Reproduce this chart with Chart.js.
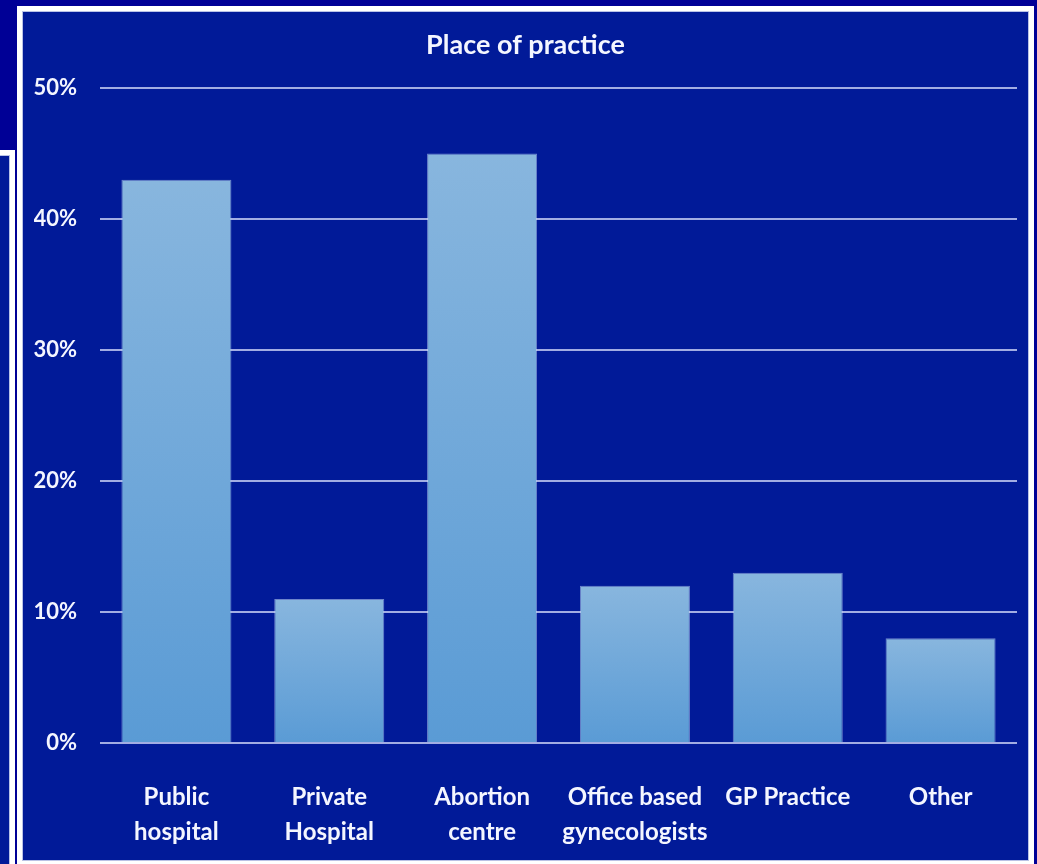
<!DOCTYPE html>
<html>
<head>
<meta charset="utf-8">
<title>Place of practice</title>
<script src="https://cdn.jsdelivr.net/npm/chart.js@4/dist/chart.umd.min.js"></script>
<style>
  html, body { margin: 0; padding: 0; }
  body { width: 1037px; height: 864px; background: #000096; position: relative; overflow: hidden; }
  /* slide frames behind the chart */
  .frame { position: absolute; border: 5px solid #ffffff; background: #011a98; box-sizing: border-box; }
  .frame .inner { position: absolute; inset: 0; border: 1px solid #b9c2e6; }
  #back-frame { left: -20px; top: 150px; width: 35px; height: 760px; }
  #main-frame { left: 17px; top: 6px; width: 1017px; height: 860px; }
  #chart-wrap { position: absolute; left: 17px; top: 0; width: 1017px; height: 864px; }
</style>
</head>
<body>
<div class="frame" id="back-frame"><div class="inner"></div></div>
<div class="frame" id="main-frame"><div class="inner"></div></div>
<div id="chart-wrap"><canvas id="practice-chart" width="1017" height="864"></canvas></div>

<script>
// --- DATA ---
const categories = [
    ['Public', 'hospital'],
    ['Private', 'Hospital'],
    ['Abortion', 'centre'],
    ['Office based', 'gynecologists'],
    'GP Practice',
    'Other'
];
const shares = [43, 11, 45, 12, 13, 8];
const yTicks = [0, 10, 20, 30, 40, 50];

const FONT = "Lato, 'Open Sans', sans-serif";
const textColor = '#f4f6ff';
const gridColor = 'rgba(190, 200, 240, 0.85)';

// Each bar fades from a pale blue at its top to a deeper blue at the base
function barGradient(context) {
    const chart = context.chart;
    if (!chart.chartArea || context.type !== 'data') return '#6fa8da';
    const y = chart.scales.y;
    const top = y.getPixelForValue(context.parsed.y);
    const bottom = y.getPixelForValue(0);
    const g = chart.ctx.createLinearGradient(0, top, 0, bottom);
    g.addColorStop(0, '#88b6de');
    g.addColorStop(1, '#5a9bd5');
    return g;
}

const ctx = document.getElementById('practice-chart');
new Chart(ctx, {
    type: 'bar',
    data: {
        labels: categories,
        datasets: [{
            label: 'Place of practice',
            data: shares,
            backgroundColor: barGradient,
            borderColor: 'rgba(200, 222, 246, 0.55)',
            borderWidth: 1,
            borderSkipped: 'bottom',
            categoryPercentage: 0.72,
            barPercentage: 1
        }]
    },
    options: {
        responsive: false,
        animation: false,
        // equal side padding keeps the title centred in the frame
        layout: { padding: { left: 17, right: 17, top: 0, bottom: 0 } },
        plugins: {
            legend: { display: false },
            tooltip: { enabled: false },
            title: {
                display: true,
                text: 'Place of practice',
                color: textColor,
                font: { family: FONT, size: 27, weight: 'bold', lineHeight: 1.2 },
                padding: { top: 29, bottom: 26.6 }
            }
        },
        scales: {
            x: {
                grid: { display: false },
                border: { display: false },
                ticks: {
                    color: textColor,
                    font: { family: FONT, size: 24, weight: 'bold', lineHeight: 1.45 },
                    padding: 29,
                    maxRotation: 0,
                    autoSkip: false
                },
                afterFit: (scale) => { scale.height = 121; }
            },
            y: {
                min: yTicks[0],
                max: yTicks[yTicks.length - 1],
                afterBuildTicks: (scale) => { scale.ticks = yTicks.map(v => ({ value: v })); },
                grid: { color: gridColor, lineWidth: 2, drawTicks: false, tickLength: 0 },
                border: { display: false },
                ticks: {
                    color: textColor,
                    font: { family: FONT, size: 22, weight: 'bold' },
                    padding: 23,
                    callback: (v) => v + '%'
                },
                afterFit: (scale) => { scale.width = 66; }
            }
        }
    }
});
</script>
</body>
</html>
